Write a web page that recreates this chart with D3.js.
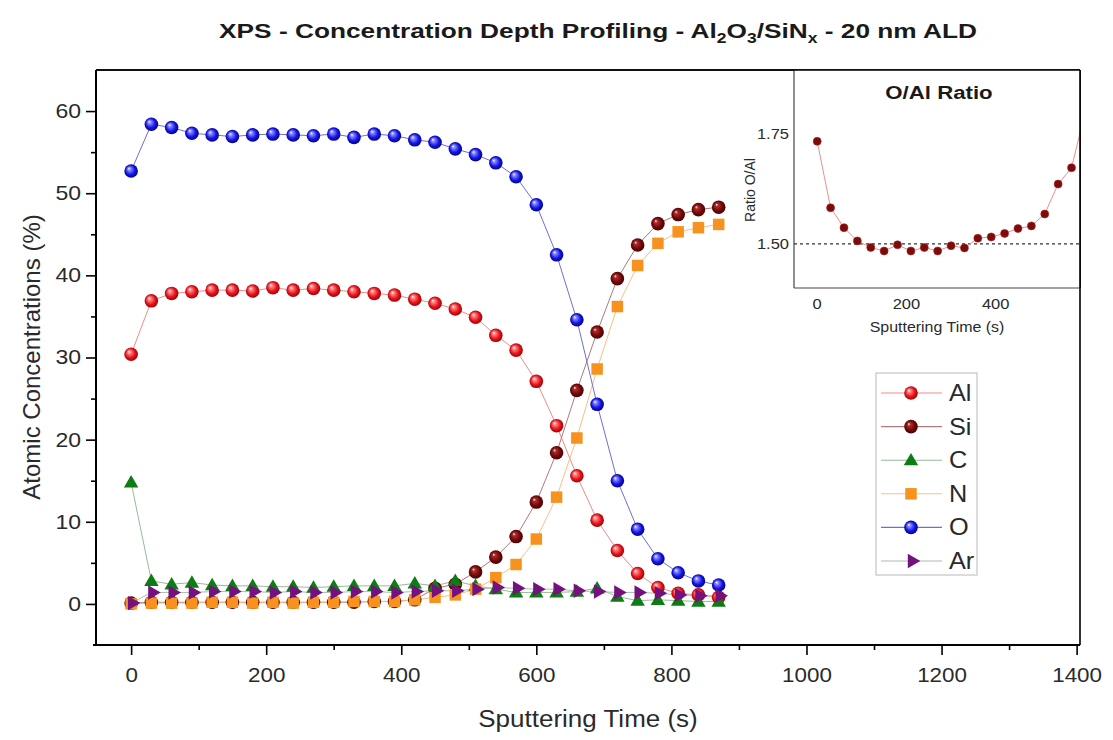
<!DOCTYPE html>
<html>
<head>
<meta charset="utf-8">
<script src="https://cdn.jsdelivr.net/npm/d3@7"></script>
<style>
body{margin:0;background:#fff}
text{font-family:Arial,"Liberation Sans",sans-serif}
</style>
</head>
<body>
<svg id="chart" width="1113" height="740"></svg>
<script>
// sputtering time (s) and atomic concentrations (%)
var time = [0,30,60,90,120,150,180,210,240,270,300,330,360,390,420,450,480,510,540,570,600,630,660,690,720,750,780,810,840,870]
var al = [30.4,36.9,37.8,38.0,38.2,38.2,38.1,38.5,38.2,38.4,38.2,38.0,37.8,37.6,37.1,36.6,35.9,34.9,32.7,30.9,27.1,21.7,15.6,10.2,6.5,3.7,2.0,1.3,1.1,0.8]
var si = [0.1,0.2,0.2,0.2,0.2,0.2,0.2,0.2,0.2,0.2,0.2,0.2,0.3,0.3,0.5,1.9,2.4,3.9,5.7,8.2,12.4,18.4,26.0,33.1,39.6,43.7,46.3,47.4,48.0,48.3]
var c = [14.8,2.8,2.4,2.6,2.3,2.2,2.2,2.1,2.1,2.0,2.1,2.2,2.2,2.2,2.5,2.2,2.8,2.2,1.8,1.4,1.4,1.4,1.5,1.9,0.9,0.4,0.5,0.4,0.3,0.3]
var n = [0.0,0.1,0.1,0.1,0.2,0.2,0.1,0.2,0.1,0.2,0.2,0.3,0.3,0.3,0.5,0.8,1.1,1.8,3.2,4.8,7.9,13.0,20.2,28.6,36.2,41.2,43.9,45.3,45.8,46.2]
var o = [52.7,58.4,58.0,57.3,57.1,56.9,57.1,57.2,57.1,57.0,57.2,56.8,57.2,57.0,56.5,56.2,55.4,54.7,53.7,52.0,48.6,42.5,34.6,24.3,15.0,9.1,5.5,3.8,2.8,2.3]
var ar = [0.1,1.4,1.4,1.4,1.5,1.5,1.5,1.4,1.5,1.4,1.4,1.5,1.5,1.4,1.5,1.6,1.6,1.8,2.0,1.9,1.8,1.8,1.6,1.5,1.4,1.4,1.3,1.1,1.0,1.0]

// inset: O/Al ratio
var ratioTime = [0,30,60,90,120,150,180,210,240,270,300,330,360,390,420,450,480,510,540,570,600]
var ratio = [1.733,1.582,1.537,1.507,1.492,1.484,1.498,1.484,1.492,1.484,1.496,1.491,1.513,1.516,1.524,1.535,1.541,1.568,1.636,1.673,1.797]

var xTicks = [0,200,400,600,800,1000,1200,1400]
var xMinor = [100,300,500,700,900,1100,1300]
var yTicks = [0,10,20,30,40,50,60]
var yMinor = [5,15,25,35,45,55]
var insetXTicks = [0,200,400]
var insetYTicks = [1.50,1.75]

var names = ["Al","Si","C","N","O","Ar"]

var svg = d3.select("#chart")
var defs = svg.append("defs")

function sphere(id, hi, base, dark)
{
    var g = defs.append("radialGradient").attr("id", id)
        .attr("cx","50%").attr("cy","50%").attr("r","55%").attr("fx","33%").attr("fy","30%")
    g.append("stop").attr("offset","0%").attr("stop-color","#ffffff")
    g.append("stop").attr("offset","20%").attr("stop-color",hi)
    g.append("stop").attr("offset","62%").attr("stop-color",base)
    g.append("stop").attr("offset","100%").attr("stop-color",dark)
}
sphere("gAl","#ff8a8a","#e8141c","#8c0000")
sphere("gSi","#a83030","#760808","#3c0000")
sphere("gO","#8c8cff","#1515e8","#00006e")

var series = [
    {name:"Al", vals:al, shape:"sphere", fill:"url(#gAl)", line:"#ef8c8c"},
    {name:"Si", vals:si, shape:"sphere", fill:"url(#gSi)", line:"#b07a7a"},
    {name:"C",  vals:c,  shape:"tri",    fill:"#0b7d12",   line:"#9cb89c"},
    {name:"N",  vals:n,  shape:"square", fill:"#f7921e",   line:"#f6bf88"},
    {name:"O",  vals:o,  shape:"sphere", fill:"url(#gO)",  line:"#6f6fcf"},
    {name:"Ar", vals:ar, shape:"right",  fill:"#74117e",   line:"#a9bfa9"}
]

var x = d3.scaleLinear().domain([-52,1405]).range([96,1080])
var y = d3.scaleLinear().domain([-5,65]).range([645,70])

// text in the reference is drawn a bit wider than Arial, so stretch it horizontally
function label(parent, px, py, txt, size, sx, anchor, bold, rot)
{
    var tr = "translate("+px+","+py+")" + (rot ? " rotate("+rot+")" : "") + " scale("+sx+",1)"
    return parent.append("text").attr("transform", tr).attr("text-anchor", anchor || "middle")
        .attr("font-size", size+"px").attr("font-weight", bold ? "bold" : "normal")
        .attr("fill", bold ? "#1a1a1a" : "#2a2a2a").text(txt)
}

function marker(g, s, px, py)
{
    if(s.shape == "sphere")
    {
        g.append("circle").attr("cx",px).attr("cy",py).attr("r",6.8).attr("fill",s.fill)
    }
    else if(s.shape == "tri")
    {
        g.append("path").attr("d", d3.symbol().type(d3.symbolTriangle).size(90)())
            .attr("transform","translate("+px+","+(py+1)+")").attr("fill",s.fill)
    }
    else if(s.shape == "right")
    {
        g.append("path").attr("d", d3.symbol().type(d3.symbolTriangle).size(90)())
            .attr("transform","translate("+(px+1)+","+py+") rotate(90)").attr("fill",s.fill)
    }
    else
    {
        g.append("path").attr("d", d3.symbol().type(d3.symbolSquare).size(132)())
            .attr("transform","translate("+px+","+py+")").attr("fill",s.fill)
    }
}

// title
var title = label(svg, 598, 38, "", 21, 1.25, "middle", true)
title.append("tspan").text("XPS - Concentration Depth Profiling - Al")
title.append("tspan").attr("font-size","14px").attr("dy",5).text("2")
title.append("tspan").attr("dy",-5).text("O")
title.append("tspan").attr("font-size","14px").attr("dy",5).text("3")
title.append("tspan").attr("dy",-5).text("/SiN")
title.append("tspan").attr("font-size","14px").attr("dy",5).text("x")
title.append("tspan").attr("dy",-5).text(" - 20 nm ALD")

// clip for plot area
defs.append("clipPath").attr("id","plotClip").append("rect")
    .attr("x",96).attr("y",70).attr("width",984).attr("height",575)

var plot = svg.append("g").attr("clip-path","url(#plotClip)")
var lineGen = d3.line().x(function(d){return x(d[0])}).y(function(d){return y(d[1])})

series.forEach(function(s)
{
    var pts = time.map(function(t,i){return [t, s.vals[i]]})
    plot.append("path").attr("d", lineGen(pts)).attr("fill","none")
        .attr("stroke", s.line).attr("stroke-width",1)
})
series.forEach(function(s)
{
    var g = plot.append("g")
    time.forEach(function(t,i){ marker(g, s, x(t), y(s.vals[i])) })
})

// axes
function styleAxis(g, sx, dx)
{
    g.select(".domain").remove()
    g.selectAll(".tick line").attr("stroke","#000").attr("stroke-width",1.6)
    g.selectAll(".tick text").attr("font-size","20px").attr("fill","#2a2a2a")
        .style("font-family","Arial, 'Liberation Sans', sans-serif")
        .attr("x",0).attr("transform","translate("+dx+",0) scale("+sx+",1)")
}
var gx = svg.append("g").attr("transform","translate(0,645)")
    .call(d3.axisBottom(x).tickValues(xTicks).tickSize(10).tickPadding(13).tickFormat(d3.format("d")))
styleAxis(gx, 1.12, 0)
var gxm = svg.append("g").attr("transform","translate(0,645)")
    .call(d3.axisBottom(x).tickValues(xMinor).tickSize(5).tickFormat(""))
styleAxis(gxm, 1, 0)
var gy = svg.append("g").attr("transform","translate(96,0)")
    .call(d3.axisLeft(y).tickValues(yTicks).tickSize(10).tickPadding(6).tickFormat(d3.format("d")))
styleAxis(gy, 1.15, -15)
var gym = svg.append("g").attr("transform","translate(96,0)")
    .call(d3.axisLeft(y).tickValues(yMinor).tickSize(5).tickFormat(""))
styleAxis(gym, 1, 0)

// frame
svg.append("line").attr("x1",96).attr("x2",1080).attr("y1",70).attr("y2",70).attr("stroke","#000").attr("stroke-width",1.6)
svg.append("line").attr("x1",1080).attr("x2",1080).attr("y1",70).attr("y2",645).attr("stroke","#000").attr("stroke-width",1.6)
svg.append("line").attr("x1",93).attr("x2",1080).attr("y1",645).attr("y2",645).attr("stroke","#000").attr("stroke-width",2)
svg.append("line").attr("x1",96).attr("x2",96).attr("y1",70).attr("y2",646).attr("stroke","#000").attr("stroke-width",2)

// axis titles
label(svg, 588, 727, "Sputtering Time (s)", 23, 1.13, "middle")
label(svg, 40, 357, "Atomic Concentrations (%)", 24, 1.0, "middle", false, -90)

// legend
var leg = svg.append("g")
leg.append("rect").attr("x",876).attr("y",373).attr("width",101).attr("height",202)
    .attr("fill","#fff").attr("stroke","#b8b8b8").attr("stroke-width",1)
series.forEach(function(s,i)
{
    var ly = 393 + i*33.6
    leg.append("line").attr("x1",881).attr("x2",942).attr("y1",ly).attr("y2",ly)
        .attr("stroke",s.line).attr("stroke-width",1.1)
    marker(leg, s, 911, ly)
    label(leg, 949, ly+8, names[i], 23, 1.1, "start")
})

// inset
var xi = d3.scaleLinear().domain([-52,589]).range([794,1080])
var yi = d3.scaleLinear().domain([1.40,1.895]).range([288,70])

svg.append("rect").attr("x",794).attr("y",70).attr("width",286).attr("height",218).attr("fill","#fff")
defs.append("clipPath").attr("id","insetClip").append("rect")
    .attr("x",794).attr("y",70).attr("width",286).attr("height",218)
var inset = svg.append("g").attr("clip-path","url(#insetClip)")
inset.append("line").attr("x1",794).attr("x2",1080).attr("y1",yi(1.5)).attr("y2",yi(1.5))
    .attr("stroke","#333").attr("stroke-width",1.2).attr("stroke-dasharray","3,3")
var iLine = d3.line().x(function(d){return xi(d[0])}).y(function(d){return yi(d[1])})
inset.append("path").attr("d", iLine(ratioTime.map(function(t,i){return [t, ratio[i]]})))
    .attr("fill","none").attr("stroke","#ec8f8f").attr("stroke-width",1)
inset.selectAll("circle.r").data(ratioTime).enter().append("circle")
    .attr("cx",function(d){return xi(d)}).attr("cy",function(d,i){return yi(ratio[i])})
    .attr("r",4).attr("fill","#7a0c0c").attr("stroke","#b02020").attr("stroke-width",0.6)

svg.append("line").attr("x1",794).attr("x2",794).attr("y1",70).attr("y2",288).attr("stroke","#444").attr("stroke-width",1.2)
svg.append("line").attr("x1",794).attr("x2",1080).attr("y1",288).attr("y2",288).attr("stroke","#444").attr("stroke-width",1.2)
svg.append("line").attr("x1",96).attr("x2",1080).attr("y1",70).attr("y2",70).attr("stroke","#000").attr("stroke-width",1.6)
svg.append("line").attr("x1",1080).attr("x2",1080).attr("y1",70).attr("y2",288).attr("stroke","#000").attr("stroke-width",1.6)

insetYTicks.forEach(function(d){ label(svg, 789, yi(d)+5.5, d3.format(".2f")(d), 15, 1.1, "end") })
insetXTicks.forEach(function(d){ label(svg, xi(d), 309, String(d), 15, 1.1, "middle") })
label(svg, 937, 332, "Sputtering Time (s)", 14.5, 1.1, "middle")
label(svg, 755, 190, "Ratio O/Al", 14, 1.0, "middle", false, -90)
label(svg, 939, 99, "O/Al Ratio", 19, 1.17, "middle", true)
</script>
</body>
</html>
